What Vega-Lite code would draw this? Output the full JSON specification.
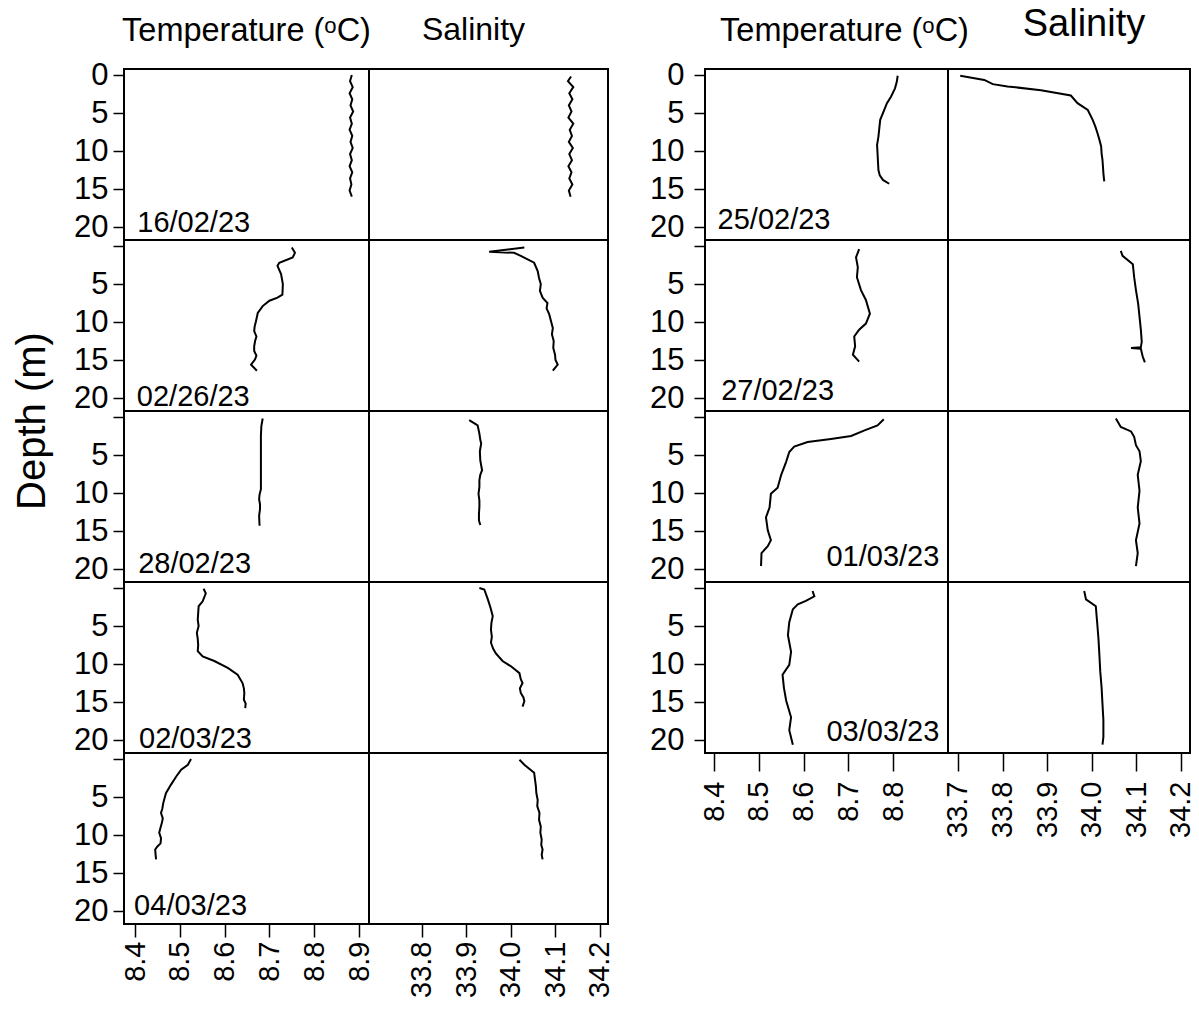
{
"$schema": "https://vega.github.io/schema/vega-lite/v6.json",
"background": "white",
"padding": {"left": 10, "top": 5, "right": 5, "bottom": 5},
"datasets": {"profiles": [
{"date":"16/02/23","var":"T","depth":0.0,"value":8.884},{"date":"16/02/23","var":"T","depth":0.8,"value":8.880},{"date":"16/02/23","var":"T","depth":1.6,"value":8.886},{"date":"16/02/23","var":"T","depth":2.4,"value":8.879},{"date":"16/02/23","var":"T","depth":3.2,"value":8.885},{"date":"16/02/23","var":"T","depth":4.0,"value":8.881},{"date":"16/02/23","var":"T","depth":4.8,"value":8.887},{"date":"16/02/23","var":"T","depth":5.6,"value":8.880},{"date":"16/02/23","var":"T","depth":6.4,"value":8.884},{"date":"16/02/23","var":"T","depth":7.2,"value":8.879},{"date":"16/02/23","var":"T","depth":8.0,"value":8.885},{"date":"16/02/23","var":"T","depth":8.8,"value":8.881},{"date":"16/02/23","var":"T","depth":9.6,"value":8.886},{"date":"16/02/23","var":"T","depth":10.4,"value":8.880},{"date":"16/02/23","var":"T","depth":11.2,"value":8.884},{"date":"16/02/23","var":"T","depth":12.0,"value":8.879},{"date":"16/02/23","var":"T","depth":12.8,"value":8.885},{"date":"16/02/23","var":"T","depth":13.6,"value":8.880},{"date":"16/02/23","var":"T","depth":14.4,"value":8.883},{"date":"16/02/23","var":"T","depth":15.2,"value":8.879},{"date":"16/02/23","var":"T","depth":16.0,"value":8.884},
{"date":"16/02/23","var":"S","depth":0.2,"value":34.135},{"date":"16/02/23","var":"S","depth":0.8,"value":34.128},{"date":"16/02/23","var":"S","depth":1.6,"value":34.140},{"date":"16/02/23","var":"S","depth":2.4,"value":34.131},{"date":"16/02/23","var":"S","depth":3.2,"value":34.138},{"date":"16/02/23","var":"S","depth":4.0,"value":34.130},{"date":"16/02/23","var":"S","depth":4.8,"value":34.136},{"date":"16/02/23","var":"S","depth":5.6,"value":34.129},{"date":"16/02/23","var":"S","depth":6.4,"value":34.140},{"date":"16/02/23","var":"S","depth":7.2,"value":34.132},{"date":"16/02/23","var":"S","depth":8.0,"value":34.137},{"date":"16/02/23","var":"S","depth":8.8,"value":34.130},{"date":"16/02/23","var":"S","depth":9.6,"value":34.139},{"date":"16/02/23","var":"S","depth":10.4,"value":34.131},{"date":"16/02/23","var":"S","depth":11.2,"value":34.137},{"date":"16/02/23","var":"S","depth":12.0,"value":34.129},{"date":"16/02/23","var":"S","depth":12.8,"value":34.136},{"date":"16/02/23","var":"S","depth":13.6,"value":34.131},{"date":"16/02/23","var":"S","depth":14.4,"value":34.138},{"date":"16/02/23","var":"S","depth":15.2,"value":34.130},{"date":"16/02/23","var":"S","depth":16.0,"value":34.134},
{"date":"02/26/23","var":"T","depth":0.2,"value":8.750},{"date":"02/26/23","var":"T","depth":0.9,"value":8.757},{"date":"02/26/23","var":"T","depth":1.5,"value":8.752},{"date":"02/26/23","var":"T","depth":2.2,"value":8.722},{"date":"02/26/23","var":"T","depth":2.6,"value":8.718},{"date":"02/26/23","var":"T","depth":3.7,"value":8.726},{"date":"02/26/23","var":"T","depth":5.0,"value":8.730},{"date":"02/26/23","var":"T","depth":6.4,"value":8.729},{"date":"02/26/23","var":"T","depth":6.8,"value":8.718},{"date":"02/26/23","var":"T","depth":7.2,"value":8.700},{"date":"02/26/23","var":"T","depth":7.9,"value":8.685},{"date":"02/26/23","var":"T","depth":8.8,"value":8.674},{"date":"02/26/23","var":"T","depth":9.9,"value":8.670},{"date":"02/26/23","var":"T","depth":10.6,"value":8.667},{"date":"02/26/23","var":"T","depth":11.2,"value":8.666},{"date":"02/26/23","var":"T","depth":11.9,"value":8.671},{"date":"02/26/23","var":"T","depth":12.5,"value":8.668},{"date":"02/26/23","var":"T","depth":13.2,"value":8.666},{"date":"02/26/23","var":"T","depth":13.8,"value":8.666},{"date":"02/26/23","var":"T","depth":14.4,"value":8.671},{"date":"02/26/23","var":"T","depth":14.9,"value":8.668},{"date":"02/26/23","var":"T","depth":15.6,"value":8.659},{"date":"02/26/23","var":"T","depth":16.4,"value":8.672},
{"date":"02/26/23","var":"S","depth":0.2,"value":34.030},{"date":"02/26/23","var":"S","depth":0.75,"value":33.951},{"date":"02/26/23","var":"S","depth":0.9,"value":34.007},{"date":"02/26/23","var":"S","depth":1.3,"value":34.022},{"date":"02/26/23","var":"S","depth":2.2,"value":34.052},{"date":"02/26/23","var":"S","depth":3.3,"value":34.060},{"date":"02/26/23","var":"S","depth":4.2,"value":34.063},{"date":"02/26/23","var":"S","depth":5.0,"value":34.067},{"date":"02/26/23","var":"S","depth":5.9,"value":34.065},{"date":"02/26/23","var":"S","depth":6.8,"value":34.071},{"date":"02/26/23","var":"S","depth":7.5,"value":34.082},{"date":"02/26/23","var":"S","depth":8.2,"value":34.080},{"date":"02/26/23","var":"S","depth":9.0,"value":34.086},{"date":"02/26/23","var":"S","depth":9.9,"value":34.090},{"date":"02/26/23","var":"S","depth":10.8,"value":34.094},{"date":"02/26/23","var":"S","depth":11.6,"value":34.092},{"date":"02/26/23","var":"S","depth":12.5,"value":34.096},{"date":"02/26/23","var":"S","depth":13.4,"value":34.095},{"date":"02/26/23","var":"S","depth":14.3,"value":34.099},{"date":"02/26/23","var":"S","depth":15.0,"value":34.100},{"date":"02/26/23","var":"S","depth":15.6,"value":34.105},{"date":"02/26/23","var":"S","depth":16.4,"value":34.094},
{"date":"28/02/23","var":"T","depth":0.2,"value":8.685},{"date":"28/02/23","var":"T","depth":1.2,"value":8.682},{"date":"28/02/23","var":"T","depth":2.5,"value":8.681},{"date":"28/02/23","var":"T","depth":4.3,"value":8.681},{"date":"28/02/23","var":"T","depth":7.0,"value":8.681},{"date":"28/02/23","var":"T","depth":9.5,"value":8.681},{"date":"28/02/23","var":"T","depth":10.2,"value":8.678},{"date":"28/02/23","var":"T","depth":10.8,"value":8.677},{"date":"28/02/23","var":"T","depth":11.5,"value":8.679},{"date":"28/02/23","var":"T","depth":12.1,"value":8.679},{"date":"28/02/23","var":"T","depth":13.0,"value":8.677},{"date":"28/02/23","var":"T","depth":14.3,"value":8.678},
{"date":"28/02/23","var":"S","depth":0.4,"value":33.906},{"date":"28/02/23","var":"S","depth":0.8,"value":33.917},{"date":"28/02/23","var":"S","depth":1.1,"value":33.925},{"date":"28/02/23","var":"S","depth":2.2,"value":33.929},{"date":"28/02/23","var":"S","depth":3.0,"value":33.931},{"date":"28/02/23","var":"S","depth":3.5,"value":33.933},{"date":"28/02/23","var":"S","depth":4.5,"value":33.930},{"date":"28/02/23","var":"S","depth":5.7,"value":33.931},{"date":"28/02/23","var":"S","depth":7.0,"value":33.935},{"date":"28/02/23","var":"S","depth":7.6,"value":33.931},{"date":"28/02/23","var":"S","depth":8.3,"value":33.929},{"date":"28/02/23","var":"S","depth":9.2,"value":33.929},{"date":"28/02/23","var":"S","depth":10.1,"value":33.927},{"date":"28/02/23","var":"S","depth":11.0,"value":33.929},{"date":"28/02/23","var":"S","depth":11.8,"value":33.929},{"date":"28/02/23","var":"S","depth":12.7,"value":33.928},{"date":"28/02/23","var":"S","depth":13.6,"value":33.928},{"date":"28/02/23","var":"S","depth":14.2,"value":33.931},
{"date":"02/03/23","var":"T","depth":0.1,"value":8.553},{"date":"02/03/23","var":"T","depth":0.7,"value":8.558},{"date":"02/03/23","var":"T","depth":1.75,"value":8.551},{"date":"02/03/23","var":"T","depth":2.4,"value":8.542},{"date":"02/03/23","var":"T","depth":3.3,"value":8.541},{"date":"02/03/23","var":"T","depth":4.2,"value":8.540},{"date":"02/03/23","var":"T","depth":5.0,"value":8.542},{"date":"02/03/23","var":"T","depth":5.9,"value":8.538},{"date":"02/03/23","var":"T","depth":6.7,"value":8.540},{"date":"02/03/23","var":"T","depth":7.5,"value":8.541},{"date":"02/03/23","var":"T","depth":8.3,"value":8.540},{"date":"02/03/23","var":"T","depth":9.0,"value":8.551},{"date":"02/03/23","var":"T","depth":9.6,"value":8.577},{"date":"02/03/23","var":"T","depth":10.5,"value":8.607},{"date":"02/03/23","var":"T","depth":11.4,"value":8.629},{"date":"02/03/23","var":"T","depth":12.5,"value":8.640},{"date":"02/03/23","var":"T","depth":13.2,"value":8.643},{"date":"02/03/23","var":"T","depth":13.8,"value":8.644},{"date":"02/03/23","var":"T","depth":14.7,"value":8.643},{"date":"02/03/23","var":"T","depth":15.2,"value":8.647},{"date":"02/03/23","var":"T","depth":15.8,"value":8.646},
{"date":"02/03/23","var":"S","depth":0.0,"value":33.929},{"date":"02/03/23","var":"S","depth":0.2,"value":33.940},{"date":"02/03/23","var":"S","depth":1.5,"value":33.948},{"date":"02/03/23","var":"S","depth":2.6,"value":33.954},{"date":"02/03/23","var":"S","depth":3.7,"value":33.959},{"date":"02/03/23","var":"S","depth":4.6,"value":33.956},{"date":"02/03/23","var":"S","depth":5.5,"value":33.955},{"date":"02/03/23","var":"S","depth":6.4,"value":33.957},{"date":"02/03/23","var":"S","depth":7.2,"value":33.955},{"date":"02/03/23","var":"S","depth":8.0,"value":33.960},{"date":"02/03/23","var":"S","depth":8.6,"value":33.966},{"date":"02/03/23","var":"S","depth":9.6,"value":33.981},{"date":"02/03/23","var":"S","depth":10.3,"value":34.000},{"date":"02/03/23","var":"S","depth":11.2,"value":34.019},{"date":"02/03/23","var":"S","depth":12.0,"value":34.022},{"date":"02/03/23","var":"S","depth":12.5,"value":34.026},{"date":"02/03/23","var":"S","depth":13.2,"value":34.020},{"date":"02/03/23","var":"S","depth":13.8,"value":34.022},{"date":"02/03/23","var":"S","depth":14.4,"value":34.028},{"date":"02/03/23","var":"S","depth":14.9,"value":34.030},{"date":"02/03/23","var":"S","depth":15.6,"value":34.026},
{"date":"04/03/23","var":"T","depth":0.0,"value":8.525},{"date":"04/03/23","var":"T","depth":0.75,"value":8.518},{"date":"04/03/23","var":"T","depth":1.4,"value":8.503},{"date":"04/03/23","var":"T","depth":2.3,"value":8.492},{"date":"04/03/23","var":"T","depth":3.4,"value":8.480},{"date":"04/03/23","var":"T","depth":4.5,"value":8.469},{"date":"04/03/23","var":"T","depth":5.8,"value":8.463},{"date":"04/03/23","var":"T","depth":6.5,"value":8.461},{"date":"04/03/23","var":"T","depth":7.1,"value":8.458},{"date":"04/03/23","var":"T","depth":7.8,"value":8.462},{"date":"04/03/23","var":"T","depth":8.4,"value":8.460},{"date":"04/03/23","var":"T","depth":9.0,"value":8.457},{"date":"04/03/23","var":"T","depth":9.7,"value":8.454},{"date":"04/03/23","var":"T","depth":10.4,"value":8.458},{"date":"04/03/23","var":"T","depth":11.1,"value":8.457},{"date":"04/03/23","var":"T","depth":11.5,"value":8.450},{"date":"04/03/23","var":"T","depth":11.9,"value":8.445},{"date":"04/03/23","var":"T","depth":12.6,"value":8.446},{"date":"04/03/23","var":"T","depth":13.2,"value":8.447},
{"date":"04/03/23","var":"S","depth":0.1,"value":34.019},{"date":"04/03/23","var":"S","depth":0.75,"value":34.030},{"date":"04/03/23","var":"S","depth":1.8,"value":34.052},{"date":"04/03/23","var":"S","depth":2.7,"value":34.054},{"date":"04/03/23","var":"S","depth":3.6,"value":34.056},{"date":"04/03/23","var":"S","depth":4.5,"value":34.057},{"date":"04/03/23","var":"S","depth":5.4,"value":34.060},{"date":"04/03/23","var":"S","depth":6.2,"value":34.059},{"date":"04/03/23","var":"S","depth":7.1,"value":34.064},{"date":"04/03/23","var":"S","depth":8.0,"value":34.063},{"date":"04/03/23","var":"S","depth":8.9,"value":34.067},{"date":"04/03/23","var":"S","depth":9.7,"value":34.066},{"date":"04/03/23","var":"S","depth":10.6,"value":34.069},{"date":"04/03/23","var":"S","depth":11.3,"value":34.068},{"date":"04/03/23","var":"S","depth":11.9,"value":34.071},{"date":"04/03/23","var":"S","depth":12.6,"value":34.069},{"date":"04/03/23","var":"S","depth":13.2,"value":34.071},
{"date":"25/02/23","var":"T","depth":0.1,"value":8.810},{"date":"25/02/23","var":"T","depth":0.9,"value":8.808},{"date":"25/02/23","var":"T","depth":1.75,"value":8.804},{"date":"25/02/23","var":"T","depth":2.85,"value":8.795},{"date":"25/02/23","var":"T","depth":3.7,"value":8.786},{"date":"25/02/23","var":"T","depth":4.6,"value":8.780},{"date":"25/02/23","var":"T","depth":5.9,"value":8.771},{"date":"25/02/23","var":"T","depth":7.0,"value":8.769},{"date":"25/02/23","var":"T","depth":8.1,"value":8.767},{"date":"25/02/23","var":"T","depth":9.2,"value":8.764},{"date":"25/02/23","var":"T","depth":10.3,"value":8.765},{"date":"25/02/23","var":"T","depth":11.4,"value":8.766},{"date":"25/02/23","var":"T","depth":12.5,"value":8.767},{"date":"25/02/23","var":"T","depth":13.2,"value":8.770},{"date":"25/02/23","var":"T","depth":13.8,"value":8.777},{"date":"25/02/23","var":"T","depth":14.3,"value":8.791},
{"date":"25/02/23","var":"S","depth":0.1,"value":33.705},{"date":"25/02/23","var":"S","depth":0.65,"value":33.759},{"date":"25/02/23","var":"S","depth":1.2,"value":33.778},{"date":"25/02/23","var":"S","depth":1.5,"value":33.811},{"date":"25/02/23","var":"S","depth":2.0,"value":33.886},{"date":"25/02/23","var":"S","depth":2.7,"value":33.953},{"date":"25/02/23","var":"S","depth":3.7,"value":33.968},{"date":"25/02/23","var":"S","depth":4.6,"value":33.991},{"date":"25/02/23","var":"S","depth":5.9,"value":34.002},{"date":"25/02/23","var":"S","depth":6.8,"value":34.008},{"date":"25/02/23","var":"S","depth":7.7,"value":34.013},{"date":"25/02/23","var":"S","depth":8.5,"value":34.017},{"date":"25/02/23","var":"S","depth":9.4,"value":34.021},{"date":"25/02/23","var":"S","depth":10.3,"value":34.022},{"date":"25/02/23","var":"S","depth":11.2,"value":34.024},{"date":"25/02/23","var":"S","depth":12.0,"value":34.025},{"date":"25/02/23","var":"S","depth":12.9,"value":34.026},{"date":"25/02/23","var":"S","depth":13.5,"value":34.027},{"date":"25/02/23","var":"S","depth":14.0,"value":34.028},
{"date":"27/02/23","var":"T","depth":0.4,"value":8.724},{"date":"27/02/23","var":"T","depth":1.5,"value":8.717},{"date":"27/02/23","var":"T","depth":2.8,"value":8.721},{"date":"27/02/23","var":"T","depth":4.1,"value":8.719},{"date":"27/02/23","var":"T","depth":5.8,"value":8.728},{"date":"27/02/23","var":"T","depth":7.1,"value":8.739},{"date":"27/02/23","var":"T","depth":8.9,"value":8.748},{"date":"27/02/23","var":"T","depth":10.2,"value":8.739},{"date":"27/02/23","var":"T","depth":11.0,"value":8.724},{"date":"27/02/23","var":"T","depth":11.9,"value":8.713},{"date":"27/02/23","var":"T","depth":13.2,"value":8.715},{"date":"27/02/23","var":"T","depth":14.3,"value":8.710},{"date":"27/02/23","var":"T","depth":15.2,"value":8.724},
{"date":"27/02/23","var":"S","depth":0.65,"value":34.065},{"date":"27/02/23","var":"S","depth":1.3,"value":34.069},{"date":"27/02/23","var":"S","depth":2.4,"value":34.092},{"date":"27/02/23","var":"S","depth":4.1,"value":34.095},{"date":"27/02/23","var":"S","depth":5.8,"value":34.099},{"date":"27/02/23","var":"S","depth":7.6,"value":34.104},{"date":"27/02/23","var":"S","depth":9.3,"value":34.107},{"date":"27/02/23","var":"S","depth":11.0,"value":34.110},{"date":"27/02/23","var":"S","depth":12.6,"value":34.112},{"date":"27/02/23","var":"S","depth":13.3,"value":34.110},{"date":"27/02/23","var":"S","depth":13.4,"value":34.088},{"date":"27/02/23","var":"S","depth":13.5,"value":34.110},{"date":"27/02/23","var":"S","depth":14.5,"value":34.114},{"date":"27/02/23","var":"S","depth":15.3,"value":34.119},
{"date":"01/03/23","var":"T","depth":0.3,"value":8.779},{"date":"01/03/23","var":"T","depth":1.1,"value":8.765},{"date":"01/03/23","var":"T","depth":1.75,"value":8.736},{"date":"01/03/23","var":"T","depth":2.5,"value":8.706},{"date":"01/03/23","var":"T","depth":2.9,"value":8.661},{"date":"01/03/23","var":"T","depth":3.3,"value":8.609},{"date":"01/03/23","var":"T","depth":3.9,"value":8.579},{"date":"01/03/23","var":"T","depth":4.6,"value":8.568},{"date":"01/03/23","var":"T","depth":5.9,"value":8.561},{"date":"01/03/23","var":"T","depth":7.6,"value":8.550},{"date":"01/03/23","var":"T","depth":9.3,"value":8.542},{"date":"01/03/23","var":"T","depth":10.1,"value":8.527},{"date":"01/03/23","var":"T","depth":11.9,"value":8.524},{"date":"01/03/23","var":"T","depth":13.2,"value":8.516},{"date":"01/03/23","var":"T","depth":14.9,"value":8.520},{"date":"01/03/23","var":"T","depth":16.2,"value":8.527},{"date":"01/03/23","var":"T","depth":17.0,"value":8.520},{"date":"01/03/23","var":"T","depth":17.9,"value":8.506},{"date":"01/03/23","var":"T","depth":19.6,"value":8.505},
{"date":"01/03/23","var":"S","depth":0.2,"value":34.054},{"date":"01/03/23","var":"S","depth":1.3,"value":34.065},{"date":"01/03/23","var":"S","depth":1.9,"value":34.088},{"date":"01/03/23","var":"S","depth":2.6,"value":34.095},{"date":"01/03/23","var":"S","depth":3.7,"value":34.099},{"date":"01/03/23","var":"S","depth":4.5,"value":34.107},{"date":"01/03/23","var":"S","depth":5.8,"value":34.110},{"date":"01/03/23","var":"S","depth":7.6,"value":34.103},{"date":"01/03/23","var":"S","depth":9.7,"value":34.107},{"date":"01/03/23","var":"S","depth":11.9,"value":34.103},{"date":"01/03/23","var":"S","depth":14.0,"value":34.107},{"date":"01/03/23","var":"S","depth":16.2,"value":34.099},{"date":"01/03/23","var":"S","depth":17.9,"value":34.103},{"date":"01/03/23","var":"S","depth":19.6,"value":34.099},
{"date":"03/03/23","var":"T","depth":0.4,"value":8.620},{"date":"03/03/23","var":"T","depth":1.1,"value":8.624},{"date":"03/03/23","var":"T","depth":1.7,"value":8.605},{"date":"03/03/23","var":"T","depth":2.15,"value":8.587},{"date":"03/03/23","var":"T","depth":2.8,"value":8.576},{"date":"03/03/23","var":"T","depth":4.5,"value":8.568},{"date":"03/03/23","var":"T","depth":6.2,"value":8.565},{"date":"03/03/23","var":"T","depth":8.4,"value":8.572},{"date":"03/03/23","var":"T","depth":10.1,"value":8.568},{"date":"03/03/23","var":"T","depth":11.4,"value":8.553},{"date":"03/03/23","var":"T","depth":13.1,"value":8.556},{"date":"03/03/23","var":"T","depth":14.8,"value":8.561},{"date":"03/03/23","var":"T","depth":17.0,"value":8.572},{"date":"03/03/23","var":"T","depth":18.7,"value":8.568},{"date":"03/03/23","var":"T","depth":20.6,"value":8.576},
{"date":"03/03/23","var":"S","depth":0.4,"value":33.983},{"date":"03/03/23","var":"S","depth":1.5,"value":33.987},{"date":"03/03/23","var":"S","depth":2.4,"value":34.009},{"date":"03/03/23","var":"S","depth":4.5,"value":34.012},{"date":"03/03/23","var":"S","depth":6.7,"value":34.015},{"date":"03/03/23","var":"S","depth":8.8,"value":34.017},{"date":"03/03/23","var":"S","depth":11.0,"value":34.019},{"date":"03/03/23","var":"S","depth":13.1,"value":34.022},{"date":"03/03/23","var":"S","depth":15.3,"value":34.024},{"date":"03/03/23","var":"S","depth":17.4,"value":34.026},{"date":"03/03/23","var":"S","depth":19.6,"value":34.026},{"date":"03/03/23","var":"S","depth":20.6,"value":34.024}
]},
"data": {"name": "profiles"},
"config": {
  "font": "Liberation Sans",
  "view": {"stroke": "black", "strokeWidth": 2},
  "axis": {"domain": false, "grid": false, "tickColor": "black", "tickWidth": 1.5, "labelColor": "black", "labelFont": "Liberation Sans", "labelFontSize": 29, "labelOverlap": false, "labelFlush": false, "labelBound": false, "titleFont": "Liberation Sans", "titleFontWeight": "normal", "titleColor": "black", "titleFontSize": 40},
  "axisY": {"labelFontSize": 31},
  "title": {"font": "Liberation Sans", "fontWeight": "normal", "color": "black", "frame": "group", "anchor": "middle", "baseline": "alphabetic"}
},
"columns": 5,
"spacing": 0,
"bounds": "flush",
"concat": [
  {"width": 245, "height": 171, "title": {"text": "Temperature (ᵒC)", "fontSize": 32.5, "offset": 12},
   "layer": [
    {"transform": [{"filter": "datum.date === '16/02/23' && datum.var === 'T'"}], "mark": {"type": "line", "color": "black", "strokeWidth": 2},
     "encoding": {"x": {"field": "value", "type": "quantitative", "scale": {"domain": [8.3754, 8.9223], "nice": false, "zero": false}, "axis": null},
      "y": {"field": "depth", "type": "quantitative", "scale": {"domain": [-0.79, 21.7], "reverse": true, "nice": false, "zero": false}, "axis": {"values": [0,5,10,15,20], "tickSize": 11, "labelPadding": 5, "title": null}},
      "order": {"field": "depth", "type": "quantitative"}}},
    {"data": {"values": [{"label": "16/02/23"}]}, "mark": {"type": "text", "align": "left", "baseline": "alphabetic", "fontSize": 29, "color": "black"},
     "encoding": {"x": {"datum": 8.405, "type": "quantitative", "scale": {"domain": [8.3754, 8.9223], "nice": false, "zero": false}}, "y": {"datum": 20.6, "type": "quantitative", "scale": {"domain": [-0.79, 21.7], "reverse": true, "nice": false, "zero": false}}, "text": {"field": "label"}}}
   ]},
  {"width": 239, "height": 171, "title": {"text": "Salinity", "fontSize": 32, "offset": 22, "dx": -15},
   "transform": [{"filter": "datum.date === '16/02/23' && datum.var === 'S'"}], "mark": {"type": "line", "color": "black", "strokeWidth": 2},
   "encoding": {"x": {"field": "value", "type": "quantitative", "scale": {"domain": [33.6809, 34.218], "nice": false, "zero": false}, "axis": null},
    "y": {"field": "depth", "type": "quantitative", "scale": {"domain": [-0.79, 21.7], "reverse": true, "nice": false, "zero": false}, "axis": null},
    "order": {"field": "depth", "type": "quantitative"}}},
  {"width": 97, "height": 171, "view": {"stroke": null}, "transform": [{"filter": "false"}], "mark": {"type": "point", "opacity": 0}, "encoding": {}},
  {"width": 243, "height": 171, "title": {"text": "Temperature (ᵒC)", "fontSize": 32.5, "offset": 12, "dx": 18},
   "layer": [
    {"transform": [{"filter": "datum.date === '25/02/23' && datum.var === 'T'"}], "mark": {"type": "line", "color": "black", "strokeWidth": 2},
     "encoding": {"x": {"field": "value", "type": "quantitative", "scale": {"domain": [8.3799, 8.9223], "nice": false, "zero": false}, "axis": null},
      "y": {"field": "depth", "type": "quantitative", "scale": {"domain": [-0.79, 21.7], "reverse": true, "nice": false, "zero": false}, "axis": {"values": [0,5,10,15,20], "tickSize": 11, "labelPadding": 10, "title": null}},
      "order": {"field": "depth", "type": "quantitative"}}},
    {"data": {"values": [{"label": "25/02/23"}]}, "mark": {"type": "text", "align": "left", "baseline": "alphabetic", "fontSize": 29, "color": "black"},
     "encoding": {"x": {"datum": 8.408, "type": "quantitative", "scale": {"domain": [8.3799, 8.9223], "nice": false, "zero": false}}, "y": {"datum": 20.3, "type": "quantitative", "scale": {"domain": [-0.79, 21.7], "reverse": true, "nice": false, "zero": false}}, "text": {"field": "label"}}}
   ]},
  {"width": 242, "height": 171, "title": {"text": "Salinity", "fontSize": 38, "offset": 25, "dx": 15},
   "transform": [{"filter": "datum.date === '25/02/23' && datum.var === 'S'"}], "mark": {"type": "line", "color": "black", "strokeWidth": 2},
   "encoding": {"x": {"field": "value", "type": "quantitative", "scale": {"domain": [33.6776, 34.2202], "nice": false, "zero": false}, "axis": null},
    "y": {"field": "depth", "type": "quantitative", "scale": {"domain": [-0.79, 21.7], "reverse": true, "nice": false, "zero": false}, "axis": null},
    "order": {"field": "depth", "type": "quantitative"}}},

  {"width": 245, "height": 171,
   "layer": [
    {"transform": [{"filter": "datum.date === '02/26/23' && datum.var === 'T'"}], "mark": {"type": "line", "color": "black", "strokeWidth": 2},
     "encoding": {"x": {"field": "value", "type": "quantitative", "scale": {"domain": [8.3754, 8.9223], "nice": false, "zero": false}, "axis": null},
      "y": {"field": "depth", "type": "quantitative", "scale": {"domain": [-0.79, 21.7], "reverse": true, "nice": false, "zero": false}, "axis": {"values": [0,5,10,15,20], "tickSize": 11, "labelPadding": 5, "title": null, "labelExpr": "datum.value == 0 ? '' : datum.label"}},
      "order": {"field": "depth", "type": "quantitative"}}},
    {"data": {"values": [{"label": "02/26/23"}]}, "mark": {"type": "text", "align": "left", "baseline": "alphabetic", "fontSize": 29, "color": "black"},
     "encoding": {"x": {"datum": 8.404, "type": "quantitative", "scale": {"domain": [8.3754, 8.9223], "nice": false, "zero": false}}, "y": {"datum": 21.0, "type": "quantitative", "scale": {"domain": [-0.79, 21.7], "reverse": true, "nice": false, "zero": false}}, "text": {"field": "label"}}}
   ]},
  {"width": 239, "height": 171,
   "transform": [{"filter": "datum.date === '02/26/23' && datum.var === 'S'"}], "mark": {"type": "line", "color": "black", "strokeWidth": 2},
   "encoding": {"x": {"field": "value", "type": "quantitative", "scale": {"domain": [33.6809, 34.218], "nice": false, "zero": false}, "axis": null},
    "y": {"field": "depth", "type": "quantitative", "scale": {"domain": [-0.79, 21.7], "reverse": true, "nice": false, "zero": false}, "axis": null},
    "order": {"field": "depth", "type": "quantitative"}}},
  {"width": 97, "height": 171, "view": {"stroke": null}, "transform": [{"filter": "false"}], "mark": {"type": "point", "opacity": 0}, "encoding": {}},
  {"width": 243, "height": 171,
   "layer": [
    {"transform": [{"filter": "datum.date === '27/02/23' && datum.var === 'T'"}], "mark": {"type": "line", "color": "black", "strokeWidth": 2},
     "encoding": {"x": {"field": "value", "type": "quantitative", "scale": {"domain": [8.3799, 8.9223], "nice": false, "zero": false}, "axis": null},
      "y": {"field": "depth", "type": "quantitative", "scale": {"domain": [-0.79, 21.7], "reverse": true, "nice": false, "zero": false}, "axis": {"values": [0,5,10,15,20], "tickSize": 11, "labelPadding": 10, "title": null, "labelExpr": "datum.value == 0 ? '' : datum.label"}},
      "order": {"field": "depth", "type": "quantitative"}}},
    {"data": {"values": [{"label": "27/02/23"}]}, "mark": {"type": "text", "align": "left", "baseline": "alphabetic", "fontSize": 29, "color": "black"},
     "encoding": {"x": {"datum": 8.416, "type": "quantitative", "scale": {"domain": [8.3799, 8.9223], "nice": false, "zero": false}}, "y": {"datum": 20.2, "type": "quantitative", "scale": {"domain": [-0.79, 21.7], "reverse": true, "nice": false, "zero": false}}, "text": {"field": "label"}}}
   ]},
  {"width": 242, "height": 171,
   "transform": [{"filter": "datum.date === '27/02/23' && datum.var === 'S'"}], "mark": {"type": "line", "color": "black", "strokeWidth": 2},
   "encoding": {"x": {"field": "value", "type": "quantitative", "scale": {"domain": [33.6776, 34.2202], "nice": false, "zero": false}, "axis": null},
    "y": {"field": "depth", "type": "quantitative", "scale": {"domain": [-0.79, 21.7], "reverse": true, "nice": false, "zero": false}, "axis": null},
    "order": {"field": "depth", "type": "quantitative"}}},

  {"width": 245, "height": 171,
   "layer": [
    {"transform": [{"filter": "datum.date === '28/02/23' && datum.var === 'T'"}], "mark": {"type": "line", "color": "black", "strokeWidth": 2},
     "encoding": {"x": {"field": "value", "type": "quantitative", "scale": {"domain": [8.3754, 8.9223], "nice": false, "zero": false}, "axis": null},
      "y": {"field": "depth", "type": "quantitative", "scale": {"domain": [-0.79, 21.7], "reverse": true, "nice": false, "zero": false}, "axis": {"values": [0,5,10,15,20], "tickSize": 11, "labelPadding": 5, "title": "Depth (m)", "titleX": -80, "titleY": 9.5, "titleAngle": 270, "titleAlign": "center", "titleBaseline": "alphabetic", "labelExpr": "datum.value == 0 ? '' : datum.label"}},
      "order": {"field": "depth", "type": "quantitative"}}},
    {"data": {"values": [{"label": "28/02/23"}]}, "mark": {"type": "text", "align": "left", "baseline": "alphabetic", "fontSize": 29, "color": "black"},
     "encoding": {"x": {"datum": 8.407, "type": "quantitative", "scale": {"domain": [8.3754, 8.9223], "nice": false, "zero": false}}, "y": {"datum": 20.5, "type": "quantitative", "scale": {"domain": [-0.79, 21.7], "reverse": true, "nice": false, "zero": false}}, "text": {"field": "label"}}}
   ]},
  {"width": 239, "height": 171,
   "transform": [{"filter": "datum.date === '28/02/23' && datum.var === 'S'"}], "mark": {"type": "line", "color": "black", "strokeWidth": 2},
   "encoding": {"x": {"field": "value", "type": "quantitative", "scale": {"domain": [33.6809, 34.218], "nice": false, "zero": false}, "axis": null},
    "y": {"field": "depth", "type": "quantitative", "scale": {"domain": [-0.79, 21.7], "reverse": true, "nice": false, "zero": false}, "axis": null},
    "order": {"field": "depth", "type": "quantitative"}}},
  {"width": 97, "height": 171, "view": {"stroke": null}, "transform": [{"filter": "false"}], "mark": {"type": "point", "opacity": 0}, "encoding": {}},
  {"width": 243, "height": 171,
   "layer": [
    {"transform": [{"filter": "datum.date === '01/03/23' && datum.var === 'T'"}], "mark": {"type": "line", "color": "black", "strokeWidth": 2},
     "encoding": {"x": {"field": "value", "type": "quantitative", "scale": {"domain": [8.3799, 8.9223], "nice": false, "zero": false}, "axis": null},
      "y": {"field": "depth", "type": "quantitative", "scale": {"domain": [-0.79, 21.7], "reverse": true, "nice": false, "zero": false}, "axis": {"values": [0,5,10,15,20], "tickSize": 11, "labelPadding": 10, "title": null, "labelExpr": "datum.value == 0 ? '' : datum.label"}},
      "order": {"field": "depth", "type": "quantitative"}}},
    {"data": {"values": [{"label": "01/03/23"}]}, "mark": {"type": "text", "align": "right", "baseline": "alphabetic", "fontSize": 29, "color": "black"},
     "encoding": {"x": {"datum": 8.903, "type": "quantitative", "scale": {"domain": [8.3799, 8.9223], "nice": false, "zero": false}}, "y": {"datum": 19.6, "type": "quantitative", "scale": {"domain": [-0.79, 21.7], "reverse": true, "nice": false, "zero": false}}, "text": {"field": "label"}}}
   ]},
  {"width": 242, "height": 171,
   "transform": [{"filter": "datum.date === '01/03/23' && datum.var === 'S'"}], "mark": {"type": "line", "color": "black", "strokeWidth": 2},
   "encoding": {"x": {"field": "value", "type": "quantitative", "scale": {"domain": [33.6776, 34.2202], "nice": false, "zero": false}, "axis": null},
    "y": {"field": "depth", "type": "quantitative", "scale": {"domain": [-0.79, 21.7], "reverse": true, "nice": false, "zero": false}, "axis": null},
    "order": {"field": "depth", "type": "quantitative"}}},

  {"width": 245, "height": 171,
   "layer": [
    {"transform": [{"filter": "datum.date === '02/03/23' && datum.var === 'T'"}], "mark": {"type": "line", "color": "black", "strokeWidth": 2},
     "encoding": {"x": {"field": "value", "type": "quantitative", "scale": {"domain": [8.3754, 8.9223], "nice": false, "zero": false}, "axis": null},
      "y": {"field": "depth", "type": "quantitative", "scale": {"domain": [-0.79, 21.7], "reverse": true, "nice": false, "zero": false}, "axis": {"values": [0,5,10,15,20], "tickSize": 11, "labelPadding": 5, "title": null, "labelExpr": "datum.value == 0 ? '' : datum.label"}},
      "order": {"field": "depth", "type": "quantitative"}}},
    {"data": {"values": [{"label": "02/03/23"}]}, "mark": {"type": "text", "align": "left", "baseline": "alphabetic", "fontSize": 29, "color": "black"},
     "encoding": {"x": {"datum": 8.409, "type": "quantitative", "scale": {"domain": [8.3754, 8.9223], "nice": false, "zero": false}}, "y": {"datum": 21.0, "type": "quantitative", "scale": {"domain": [-0.79, 21.7], "reverse": true, "nice": false, "zero": false}}, "text": {"field": "label"}}}
   ]},
  {"width": 239, "height": 171,
   "transform": [{"filter": "datum.date === '02/03/23' && datum.var === 'S'"}], "mark": {"type": "line", "color": "black", "strokeWidth": 2},
   "encoding": {"x": {"field": "value", "type": "quantitative", "scale": {"domain": [33.6809, 34.218], "nice": false, "zero": false}, "axis": null},
    "y": {"field": "depth", "type": "quantitative", "scale": {"domain": [-0.79, 21.7], "reverse": true, "nice": false, "zero": false}, "axis": null},
    "order": {"field": "depth", "type": "quantitative"}}},
  {"width": 97, "height": 171, "view": {"stroke": null}, "transform": [{"filter": "false"}], "mark": {"type": "point", "opacity": 0}, "encoding": {}},
  {"width": 243, "height": 171,
   "layer": [
    {"transform": [{"filter": "datum.date === '03/03/23' && datum.var === 'T'"}], "mark": {"type": "line", "color": "black", "strokeWidth": 2},
     "encoding": {"x": {"field": "value", "type": "quantitative", "scale": {"domain": [8.3799, 8.9223], "nice": false, "zero": false}, "axis": {"values": [8.4,8.5,8.6,8.7,8.8], "format": ".1f", "labelAngle": 270, "tickSize": 18, "labelPadding": 10, "title": null}},
      "y": {"field": "depth", "type": "quantitative", "scale": {"domain": [-0.79, 21.7], "reverse": true, "nice": false, "zero": false}, "axis": {"values": [0,5,10,15,20], "tickSize": 11, "labelPadding": 10, "title": null, "labelExpr": "datum.value == 0 ? '' : datum.label"}},
      "order": {"field": "depth", "type": "quantitative"}}},
    {"data": {"values": [{"label": "03/03/23"}]}, "mark": {"type": "text", "align": "right", "baseline": "alphabetic", "fontSize": 29, "color": "black"},
     "encoding": {"x": {"datum": 8.903, "type": "quantitative", "scale": {"domain": [8.3799, 8.9223], "nice": false, "zero": false}}, "y": {"datum": 20.1, "type": "quantitative", "scale": {"domain": [-0.79, 21.7], "reverse": true, "nice": false, "zero": false}}, "text": {"field": "label"}}}
   ]},
  {"width": 242, "height": 171,
   "transform": [{"filter": "datum.date === '03/03/23' && datum.var === 'S'"}], "mark": {"type": "line", "color": "black", "strokeWidth": 2},
   "encoding": {"x": {"field": "value", "type": "quantitative", "scale": {"domain": [33.6776, 34.2202], "nice": false, "zero": false}, "axis": {"values": [33.7,33.8,33.9,34.0,34.1,34.2], "format": ".1f", "labelAngle": 270, "tickSize": 18, "labelPadding": 10, "title": null}},
    "y": {"field": "depth", "type": "quantitative", "scale": {"domain": [-0.79, 21.7], "reverse": true, "nice": false, "zero": false}, "axis": null},
    "order": {"field": "depth", "type": "quantitative"}}},

  {"width": 245, "height": 171,
   "layer": [
    {"transform": [{"filter": "datum.date === '04/03/23' && datum.var === 'T'"}], "mark": {"type": "line", "color": "black", "strokeWidth": 2},
     "encoding": {"x": {"field": "value", "type": "quantitative", "scale": {"domain": [8.3754, 8.9223], "nice": false, "zero": false}, "axis": {"values": [8.4,8.5,8.6,8.7,8.8,8.9], "format": ".1f", "labelAngle": 270, "tickSize": 13, "labelPadding": 4, "title": null}},
      "y": {"field": "depth", "type": "quantitative", "scale": {"domain": [-0.79, 21.7], "reverse": true, "nice": false, "zero": false}, "axis": {"values": [0,5,10,15,20], "tickSize": 11, "labelPadding": 5, "title": null, "labelExpr": "datum.value == 0 ? '' : datum.label"}},
      "order": {"field": "depth", "type": "quantitative"}}},
    {"data": {"values": [{"label": "04/03/23"}]}, "mark": {"type": "text", "align": "left", "baseline": "alphabetic", "fontSize": 29, "color": "black"},
     "encoding": {"x": {"datum": 8.398, "type": "quantitative", "scale": {"domain": [8.3754, 8.9223], "nice": false, "zero": false}}, "y": {"datum": 20.5, "type": "quantitative", "scale": {"domain": [-0.79, 21.7], "reverse": true, "nice": false, "zero": false}}, "text": {"field": "label"}}}
   ]},
  {"width": 239, "height": 171,
   "transform": [{"filter": "datum.date === '04/03/23' && datum.var === 'S'"}], "mark": {"type": "line", "color": "black", "strokeWidth": 2},
   "encoding": {"x": {"field": "value", "type": "quantitative", "scale": {"domain": [33.6809, 34.218], "nice": false, "zero": false}, "axis": {"values": [33.8,33.9,34.0,34.1,34.2], "format": ".1f", "labelAngle": 270, "tickSize": 13, "labelPadding": 4, "title": null}},
    "y": {"field": "depth", "type": "quantitative", "scale": {"domain": [-0.79, 21.7], "reverse": true, "nice": false, "zero": false}, "axis": null},
    "order": {"field": "depth", "type": "quantitative"}}}
]
}
